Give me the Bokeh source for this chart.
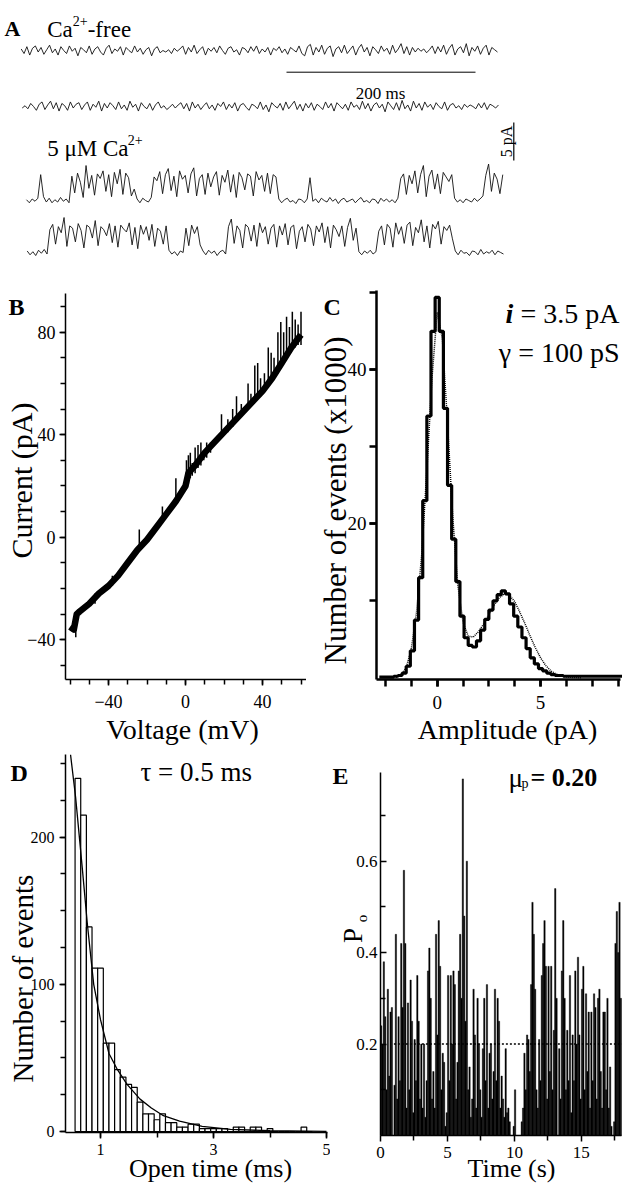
import numpy as np
from bokeh.plotting import figure
from bokeh.models import Label, FixedTicker, Range1d
from bokeh.layouts import column, row
from bokeh.embed import file_html
from bokeh.resources import INLINE

FONT = "Liberation Serif"

# ---------------------------------------------------------------- data
# Panel A: single-channel current (pA), one sample every 3 ms
trace_dt_ms = 3.0
trace_cafree_1 = [
    0.2,-0.4,0.5,-0.6,0.3,0.6,-0.2,0.4,-0.5,0.1,0.7,-0.3,0.2,-0.6,0.5,0.0,-0.4,0.6,-0.1,0.3,
    -0.7,0.4,0.1,-0.3,0.6,-0.5,0.2,0.5,-0.2,-0.6,0.3,0.7,-0.4,0.2,-0.1,0.5,-0.6,0.4,0.0,-0.3,
    0.6,-0.2,0.3,-0.5,0.1,0.4,-0.7,0.2,0.5,-0.3,0.0,-0.2,0.1,-0.4,0.3,-0.1,0.2,0.6,-0.5,0.4,
    -0.2,0.7,-0.4,0.1,0.5,-0.6,0.3,-0.1,0.4,-0.3,0.6,0.0,-0.5,0.3,0.5,-0.2,0.1,-0.6,0.4,0.2,
    -0.3,0.5,-0.1,0.6,-0.4,0.2,-0.2,0.4,-0.6,0.3,0.0,0.5,-0.3,0.2,-0.5,0.4,0.1,-0.2,0.6,-0.4,
    -0.7,0.5,0.8,-0.6,0.4,-0.2,0.7,-0.5,0.3,0.6,-0.8,0.2,0.5,-0.3,0.7,-0.4,0.1,0.6,-0.6,0.3,
    0.8,-0.2,0.4,-0.7,0.5,0.1,-0.4,0.6,-0.1,0.3,-0.5,0.7,-0.3,0.2,0.9,-0.4,0.5,-0.6,0.4,-0.2,
    0.3,-0.1,0.2,-0.3,0.1,0.6,-0.4,0.5,-0.2,0.7,-0.5,0.3,0.8,-0.6,0.2,0.5,-0.3,0.9,-0.7,0.4,
    -0.1,0.6,-0.5,0.3,0.7,-0.6,0.4,0.1,-0.2]
trace_cafree_2 = [
    -0.2,0.1,-0.3,0.4,0.0,-0.5,0.3,0.6,-0.4,0.2,0.7,-0.3,0.5,-0.6,0.4,0.1,-0.5,0.6,-0.2,0.3,
    0.5,-0.4,0.2,0.6,-0.5,0.3,-0.1,0.7,-0.6,0.4,-0.2,0.5,0.1,-0.4,0.6,-0.3,0.2,-0.5,0.7,-0.1,
    0.3,-0.6,0.5,0.0,-0.3,0.4,-0.5,0.2,0.6,-0.2,0.1,-0.4,-0.1,0.3,-0.2,0.2,0.5,-0.3,0.4,-0.6,
    0.6,-0.2,0.3,-0.4,0.1,0.5,-0.3,0.2,-0.5,0.4,0.0,0.6,-0.4,0.3,-0.2,0.5,-0.6,0.2,0.4,-0.1,
    -0.5,0.3,0.1,-0.3,0.6,-0.4,0.2,-0.7,0.5,0.1,-0.2,0.4,-0.5,0.6,-0.3,0.2,0.7,-0.4,0.3,-0.6,
    0.4,-0.2,0.5,-0.5,0.3,0.0,-0.4,0.6,-0.2,0.4,-0.6,0.5,0.1,-0.3,0.3,-0.5,0.6,-0.1,0.2,-0.4,
    0.7,-0.3,0.4,-0.6,0.2,0.5,-0.2,0.3,-0.7,0.6,0.1,-0.4,0.5,-0.5,0.8,-0.3,0.2,-0.6,0.7,-0.2,
    0.4,-0.5,0.6,-0.1,0.3,-0.4,0.5,0.0,-0.3,0.6,-0.5,0.2,0.4,-0.2,0.1,-0.4,0.3,-0.1,0.2,0.0,
    -0.3,0.4,-0.2,0.5,-0.4,0.3,0.1,-0.2,0.2]
trace_ca5_1 = [
    0.1,-0.3,0.2,-0.1,0.3,
    3.4,0.5,
    -0.2,0.3,-0.3,0.1,-0.2,0.4,-0.1,0.2,-0.3,
    3.2,1.0,3.6,2.4,0.4,4.6,1.6,3.3,0.7,3.5,2.9,3.9,1.2,3.4,0.5,3.7,2.2,4.1,0.8,3.6,3.0,0.6,1.5,
    0.2,-0.3,0.3,0.0,-0.2,0.4,
    3.1,2.6,3.8,0.9,3.4,4.2,1.3,3.2,0.5,3.9,2.8,3.3,1.0,3.5,4.3,0.6,2.9,3.4,0.8,3.6,
    1.8,3.1,3.8,0.7,3.3,2.4,4.0,1.1,3.4,0.4,3.7,3.0,1.4,3.5,3.2,0.6,3.8,2.7,3.3,1.2,
    3.6,0.9,3.4,3.1,
    0.2,-0.3,0.1,0.3,-0.2,0.0,-0.4,0.2,0.1,-0.3,0.2,
    3.0,
    -0.1,0.2,-0.3,0.3,0.0,-0.2,0.4,-0.1,0.2,-0.4,0.1,0.3,-0.2,0.0,0.2,-0.3,0.1,0.4,-0.2,0.0,
    -0.3,0.2,0.1,-0.4,0.3,-0.1,0.2,-0.2,0.1,-0.3,0.3,
    2.9,3.5,0.8,3.3,2.2,3.9,1.0,3.4,4.6,0.5,3.2,4.0,1.5,3.5,0.9,3.7,3.1,2.5,3.4,
    0.3,-0.2,0.1,-0.3,0.2,0.0,-0.2,0.3,-0.1,0.2,0.6,
    3.3,4.8,1.2,3.6,2.8,0.9,3.4]
trace_ca5_2 = [
    0.2,-0.3,0.1,-0.4,0.3,-0.1,0.4,-0.2,
    3.0,3.7,1.1,3.4,2.6,4.6,0.8,3.5,3.2,1.4,3.8,2.9,0.6,3.6,3.3,1.9,4.2,0.9,3.4,3.0,
    2.2,3.8,1.3,3.5,0.7,3.6,3.1,2.7,3.9,1.0,3.3,0.5,3.6,2.4,3.4,1.6,3.7,0.8,3.2,2.8,
    1.1,3.5,
    0.3,-0.2,0.1,-0.4,0.2,0.0,
    3.2,0.9,3.6,2.5,3.4,1.0,
    0.2,-0.3,0.3,-0.1,0.2,-0.4,0.1,0.3,-0.2,
    3.4,4.4,1.2,3.5,2.9,0.6,3.7,3.3,1.5,3.6,0.8,3.9,2.6,3.4,1.1,3.2,3.7,0.7,3.5,2.3,
    3.8,1.0,3.3,3.6,0.5,2.8,3.4,1.4,3.7,3.1,0.9,3.5,2.7,3.9,1.3,3.4,0.6,3.6,3.0,2.1,
    3.5,0.8,3.3,4.5,1.6,3.2,
    0.1,-0.3,0.2,-0.1,0.3,-0.2,0.1,
    2.8,3.5,1.0,3.7,3.2,0.7,3.9,2.4,3.4,1.2,3.6,4.0,0.9,3.3,2.6,4.3,1.4,3.5,0.6,3.7,
    3.1,4.1,1.1,3.4,2.9,3.6,1.8,
    0.2,-0.3,0.3,-0.1,0.0,-0.4,0.2,0.1,-0.3,0.4,-0.2,0.1,-0.1,0.3,-0.3,0.2,0.0,-0.2]

# Panel B: I-V ramp (mV, pA)
iv_voltage = [-60, -58, -56.5, -55, -50, -45, -40, -35, -30, -25, -20, -15, -10, -5,
              0, 1.5, 5, 10, 15, 20, 25, 30, 35, 40, 45, 50, 55, 60]
iv_current = [-35, -36, -30, -29, -26, -22, -19, -15, -10, -5, -1, 4, 9, 14,
              20, 25, 28, 33, 37, 41, 45, 49, 53, 57, 62, 68, 74, 79]
iv_spike_v = [-57, -47, -38, -24, -12, -5, 0.5, 1.5, 2.5, 3.5, 5, 6.5, 8, 9.5, 11, 13,
              18.7, 22, 24.5, 26.5, 29, 32.5, 34, 36, 37.5, 39, 41, 43, 44.5, 46, 48,
              49.5, 51, 52.5, 54, 55.5, 57, 58.5, 60]
iv_spike_lo = [-39, -26, -19, -5, 6, 13, 19, 21, 23, 24, 25, 27, 28, 30, 31, 33,
               39, 41, 43, 45, 47, 50, 51, 53, 54, 55, 57, 59, 60, 63, 64,
               66, 68, 70, 72, 73, 74, 75, 75]
iv_spike_hi = [-31, -22, -15, 3, 12, 23, 30, 32, 33, 29, 35, 36, 37, 34, 37, 37,
               48, 46, 50, 55, 52, 60, 56, 67, 68, 62, 64, 74, 72, 70, 80,
               84, 80, 86, 82, 88, 85, 83, 88]

# Panel C: all-points amplitude histogram (x1000 events), bins of 0.2 pA
amp_first_center = -2.8
amp_bin_width = 0.2
amp_counts = [0.1, 0.1, 0.1, 0.1, 0.2, 0.3, 0.6, 1.5, 3.5, 7.5, 13, 23, 34, 45, 49.4,
              45, 35, 25, 18, 12.5, 8, 5.2, 4.2, 4.0, 4.8, 6.2, 7.6, 8.8, 10, 10.8,
              11.3, 10.9, 9.6, 8.0, 6.6, 5.2, 3.8, 2.6, 1.8, 1.2, 0.9, 0.6, 0.4, 0.3, 0.3,
              0.2, 0.2, 0.2, 0.2, 0.2, 0.2, 0.2, 0.2, 0.2, 0.2, 0.2, 0.2, 0.2, 0.2, 0.2]
amp_fit_x = [-2.0, -1.75, -1.5, -1.25, -1.0, -0.75, -0.5, -0.25, 0.0, 0.25, 0.5, 0.75,
             1.0, 1.25, 1.5, 1.75, 2.0, 2.25, 2.5, 2.75, 3.0, 3.25, 3.5, 3.75, 4.0,
             4.25, 4.5, 4.75, 5.0, 5.25, 5.5, 5.75, 6.0, 6.25, 6.5, 7.0]
amp_fit_y = [0.05, 0.3, 1.3, 3.8, 8.5, 16, 27, 39, 47.5, 44, 33, 21,
             12, 7.2, 5.4, 5.3, 6.0, 7.0, 8.2, 9.4, 10.4, 10.9, 10.7, 9.9, 8.5,
             7.0, 5.4, 3.9, 2.6, 1.6, 0.9, 0.5, 0.25, 0.1, 0.05, 0.0]

# Panel D: open-time histogram (ms), bins of 0.1 ms
open_first_left = 0.55
open_bin_width = 0.1
open_counts = [240, 215, 139, 111, 111, 60, 60, 42, 37, 32, 30, 20, 12, 12, 8, 12,
               6, 6, 3, 3, 5, 5, 2, 2, 2, 2, 2, 0, 3, 3, 0, 3, 3, 0, 2, 0, 0, 0, 0, 0, 3, 0]
open_fit_t = [0.47, 0.56, 0.68, 0.77, 0.88, 1.0, 1.15, 1.3, 1.47, 1.7, 1.9, 2.1, 2.4,
              2.8, 3.3, 4.0, 5.0]
open_fit_n = [256, 227, 178, 140, 100, 76, 53, 42, 32, 22, 16, 11, 7, 3.5, 1.5, 0.5, 0.1]

# Panel E: open probability per 0.1 s segment
po_bin_width = 0.1
po_values = [
    0.24,0.20,0.38,0.26,0.10,0.32,0.13,0.27,0.28,0.00,0.11,0.44,0.08,0.26,0.12,0.42,0.28,0.58,0.42,0.06,
    0.29,0.10,0.34,0.25,0.05,0.21,0.12,0.35,0.25,0.08,0.20,0.06,0.20,0.04,0.12,0.36,0.41,0.30,0.08,0.14,
    0.06,0.44,0.22,0.47,0.37,0.10,0.18,0.16,0.02,0.05,0.35,0.12,0.35,0.20,0.36,0.33,0.08,0.16,0.36,0.44,
    0.30,0.78,0.48,0.25,0.60,0.10,0.15,0.04,0.08,0.32,0.22,0.06,0.30,0.20,0.10,0.04,0.19,0.30,0.12,0.33,
    0.06,0.18,0.20,0.08,0.14,0.32,0.12,0.30,0.25,0.06,0.13,0.08,0.04,0.19,0.05,0.06,0.03,0.00,0.00,0.02,
    0.10,0.00,0.00,0.00,0.00,0.03,0.06,0.18,0.10,0.22,0.21,0.14,0.33,0.51,0.44,0.32,0.10,0.06,0.21,0.12,
    0.35,0.42,0.47,0.37,0.08,0.37,0.14,0.37,0.10,0.23,0.54,0.30,0.00,0.19,0.08,0.36,0.47,0.30,0.10,0.23,
    0.12,0.35,0.05,0.22,0.12,0.36,0.20,0.39,0.22,0.08,0.32,0.37,0.10,0.31,0.14,0.27,0.06,0.27,0.12,0.31,
    0.28,0.08,0.30,0.32,0.14,0.06,0.27,0.27,0.10,0.30,0.06,0.15,0.02,0.00,0.03,0.42,0.49,0.40,0.51,0.30]
po_mean = 0.20
po_mean_from_s = 1.0

# ---------------------------------------------------------------- helpers
# the layout's top-left corner is reference pixel (0, 0)


class Panel:
    """A figure whose frame is the whole figure; px<->data mapping is linear."""

    def __init__(self, box, xpx, ypx):
        fl, ft, fr, fb = box
        (px0, v0, kx), (py0, w0, ky) = xpx, ypx
        self.fx = lambda rx: v0 + (rx - px0) / kx
        self.fy = lambda ry: w0 + (py0 - ry) / ky
        xr = (self.fx(fl), self.fx(fr))
        yr = (self.fy(fb), self.fy(ft))
        self.p = figure(width=fr - fl, height=fb - ft,
                        x_range=Range1d(*xr), y_range=Range1d(*yr),
                        min_border_left=0, min_border_right=0,
                        min_border_top=0, min_border_bottom=0,
                        toolbar_location=None, output_backend="svg")
        p = self.p
        p.outline_line_color = None
        p.background_fill_color = "white"
        p.border_fill_color = "white"
        p.grid.visible = False

    def conv(self, rx, ry):
        return self.fx(rx), self.fy(ry)

    def text(self, rx, ry, s, size, style="normal", align="left",
             baseline="alphabetic", angle=0.0):
        x, y = self.conv(rx, ry)
        self.p.add_layout(Label(x=x, y=y, text=s, text_font=FONT,
                                text_font_size=f"{size}px", text_font_style=style,
                                text_align=align, text_baseline=baseline,
                                angle=angle, text_color="black"))

    def axes(self, frame, lw=1.5, tick_out=6, minor_out=5, x_standoff=8,
             y_standoff=4, y_in=False, font_px=18):
        L, T, R, B = frame
        x0, x1 = self.fx(L), self.fx(R)
        y0, y1 = self.fy(B), self.fy(T)
        p = self.p
        xa, ya = p.xaxis[0], p.yaxis[0]
        xa.fixed_location = y0
        ya.fixed_location = x0
        xa.bounds = (x0, x1)
        ya.bounds = (y0, y1)
        for ax in (xa, ya):
            ax.axis_line_width = lw
            ax.axis_line_color = "black"
            ax.major_tick_line_width = lw
            ax.minor_tick_line_width = lw
            ax.major_tick_line_color = "black"
            ax.minor_tick_line_color = "black"
            ax.major_tick_in = 0
            ax.minor_tick_in = 0
            ax.major_tick_out = tick_out
            ax.minor_tick_out = minor_out
            ax.major_label_text_font = FONT
            ax.major_label_text_font_size = f"{font_px}px"
            ax.major_label_text_color = "black"
            ax.axis_label = None
        xa.major_label_standoff = x_standoff
        ya.major_label_standoff = y_standoff
        if y_in:
            ya.major_tick_in = tick_out
            ya.minor_tick_in = minor_out
            ya.major_tick_out = 0
            ya.minor_tick_out = 0
        return xa, ya


HALF_PI = np.pi / 2

# ---------------------------------------------------------------- panel A
# x in ms (0.945 px/ms, t=0 at ref x 20.7); y in pA (7.6 px/pA, 0 at ref y 280)
PA = Panel((0, 0, 622, 280), (20.7, 0.0, 0.945), (280, 0.0, 7.6))
pa = PA.p
pa.axis.visible = False

traces = [  # (values, ref x of first sample, ref y of baseline)
    (trace_cafree_1, 20.7, 50),
    (trace_cafree_2, 21.7, 106),
    (trace_ca5_1, 26.0, 200),
    (trace_ca5_2, 26.7, 252),
]
for vals, x0, ybase in traces:
    t_start, base = PA.conv(x0, ybase)
    t = t_start + np.arange(len(vals)) * trace_dt_ms
    pa.line(t, base + np.asarray(vals), line_color="#111111", line_width=0.9)

# scale bars (200 ms, 5 pA)
bar_t0, bar_y = PA.conv(286, 71.7)
pa.line([bar_t0, bar_t0 + 200], [bar_y, bar_y], line_color="black", line_width=1.0)
sb_x, sb_y0 = PA.conv(513.3, 160)
pa.line([sb_x, sb_x], [sb_y0, sb_y0 + 5], line_color="black", line_width=1.2)

PA.text(4, 28, "A", 22, style="bold")
PA.text(46.7, 29, "Ca", 23)
PA.text(72.3, 20, "2+", 14)
PA.text(87.2, 29, "-free", 23)
PA.text(380, 93, "200 ms", 17, align="center")
PA.text(46.7, 148, "5 \u03bcM Ca", 23)
PA.text(127.2, 139, "2+", 14)
PA.text(506, 141, "5 pA", 16, align="center", baseline="middle", angle=HALF_PI)

# ---------------------------------------------------------------- panel B
# V: 0 mV at ref x 185, 1.925 px/mV ; I: 0 pA at ref y 536.7, 2.5625 px/pA
PB = Panel((0, 280, 306, 745), (185, 0.0, 1.925), (536.7, 0.0, 2.5625))
pb = PB.p
xa, ya = PB.axes((65, 293, 306, 679), lw=1.5, x_standoff=9, y_standoff=4)
xa.ticker = FixedTicker(ticks=[-40, 0, 40], minor_ticks=list(range(-60, 61, 10)))
ya.ticker = FixedTicker(ticks=[-40, 0, 40, 80], minor_ticks=list(range(-50, 91, 10)))
pb.line(iv_voltage, iv_current, line_color="black", line_width=6.5, line_join="round")
pb.segment(iv_spike_v, iv_spike_lo, iv_spike_v, iv_spike_hi, line_color="black", line_width=1.5)
PB.text(8, 306, "B", 24, style="bold")
PB.text(21, 480, "Current (pA)", 30, align="center", baseline="middle", angle=HALF_PI)
PB.text(182, 729, "Voltage (mV)", 28, align="center")

# ---------------------------------------------------------------- panel C
# amplitude: 0 pA at ref x 436.7, 20.67 px/pA ; count: 0 at ref y 677.3, 7.7 px/1000
PC = Panel((306, 280, 622, 745), (436.7, 0.0, 20.67), (677.3, 0.0, 7.7))
pc = PC.p
xa, ya = PC.axes((376, 290, 620, 679), lw=2.5, tick_out=7, minor_out=7,
                 x_standoff=9, y_standoff=3, font_px=19)
xa.ticker = FixedTicker(ticks=[0, 5], minor_ticks=[-2.5, -1.25, 0, 1.25, 2.5, 3.75, 5, 6.25, 7.5, 8.75])
ya.ticker = FixedTicker(ticks=[20, 40], minor_ticks=[10, 20, 30, 40, 50])
amp_centers = amp_first_center + np.arange(len(amp_counts)) * amp_bin_width
pc.step(amp_centers, amp_counts, mode="center", line_color="black", line_width=3.2)
pc.line(amp_fit_x, amp_fit_y, line_color="black", line_width=1.5, line_dash="1 1")
PC.text(323, 306, "C", 24, style="bold")
PC.text(505, 313, "i", 28, style="bold italic")
PC.text(619, 313, "= 3.5 pA", 28, align="right")
PC.text(619, 352, "\u03b3 = 100 pS", 28, align="right")
PC.text(335, 500, "Number of events (x1000)", 31, align="center", baseline="middle", angle=HALF_PI)
PC.text(507, 729, "Amplitude (pA)", 28, align="center")

# ---------------------------------------------------------------- panel D
# time: 1 ms at ref x 100, 56.5 px/ms ; count: 0 at ref y 1131, 1.4715 px/event
PD = Panel((0, 745, 330, 1183), (100, 1.0, 56.5), (1131, 0.0, 1.4715))
pd_ = PD.p
xa, ya = PD.axes((65, 754, 327, 1132), lw=1.5, x_standoff=5, y_standoff=5, font_px=16)
xa.ticker = FixedTicker(ticks=[1, 3, 5], minor_ticks=[1, 2, 3, 4, 5])
ya.ticker = FixedTicker(ticks=[0, 100, 200], minor_ticks=list(range(0, 251, 25)))
open_left = open_first_left + np.arange(len(open_counts)) * open_bin_width
pd_.quad(left=open_left, right=open_left + open_bin_width, bottom=0, top=open_counts,
         fill_color="white", line_color="black", line_width=1.2)
pd_.line(open_fit_t, open_fit_n, line_color="black", line_width=1.3)
PD.text(10, 772, "D", 24, style="bold")
PD.text(140, 771, "\u03c4 = 0.5 ms", 27)
PD.text(22, 978, "Number of events", 29, align="center", baseline="middle", angle=HALF_PI)
PD.text(210, 1168, "Open time (ms)", 26, align="center")

# ---------------------------------------------------------------- panel E
# time: 0 s at ref x 380, 13.39 px/s ; Po: 0 at ref y 1135, 457.2 px/unit
PE = Panel((330, 745, 622, 1183), (380, 0.0, 13.39), (1135, 0.0, 457.2))
pe = PE.p
xa, ya = PE.axes((380, 772, 621, 1135), lw=1.5, x_standoff=5, y_standoff=3, y_in=True,
                 font_px=17)
xa.ticker = FixedTicker(ticks=[0, 5, 10, 15], minor_ticks=[2.5, 7.5, 12.5, 17.5])
ya.ticker = FixedTicker(ticks=[0.2, 0.4, 0.6], minor_ticks=[0.1, 0.3, 0.5, 0.7])
po_t = (np.arange(len(po_values)) + 0.5) * po_bin_width
pe.vbar(x=po_t, width=po_bin_width, top=po_values, bottom=0,
        fill_color="black", line_color="black", line_width=0.4)
pe.line([po_mean_from_s, PE.fx(640)], [po_mean, po_mean], line_color="black",
        line_width=1.5, line_dash="2 2")
PE.text(332, 775, "E", 24, style="bold")
PE.text(508, 777, "\u03bc", 27)
PE.text(521, 783, "p", 14)
PE.text(530, 777, "= 0.20", 26, style="bold")
PE.text(352, 935, "P", 27, align="center", baseline="middle", angle=HALF_PI)
PE.text(361, 918, "o", 15, align="center", baseline="middle", angle=HALF_PI)
PE.text(511, 1168, "Time (s)", 26, align="center")

layout = column(pa, row(pb, pc), row(pd_, pe))
open("out.html", "w").write(file_html(layout, INLINE))
